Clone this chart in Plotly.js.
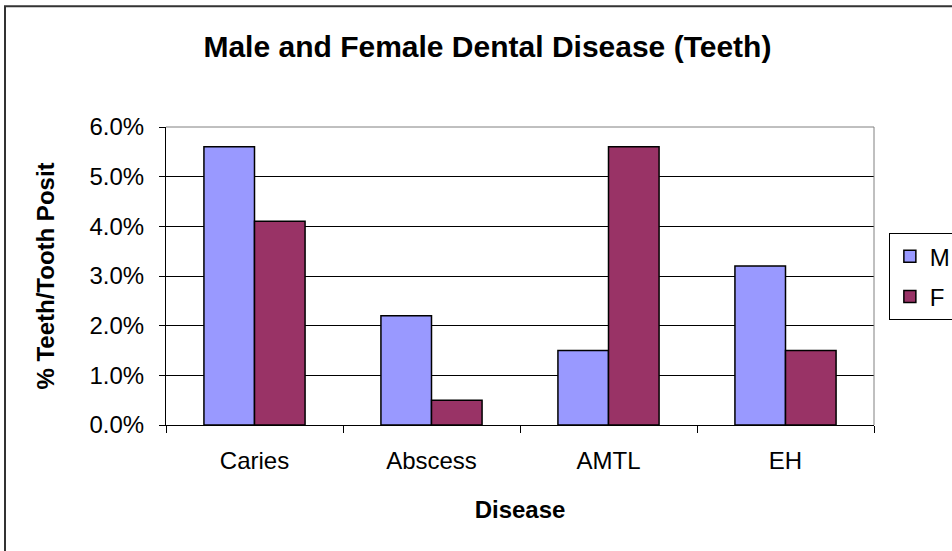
<!DOCTYPE html>
<html>
<head>
<meta charset="utf-8">
<script src="https://cdn.plot.ly/plotly-3.0.1.min.js"></script>
<style>html,body{margin:0;padding:0;background:#fff;}#chart{width:952px;height:551px;}</style>
</head>
<body>
<div id="chart"></div>
<script>
const categories = ["Caries", "Abscess", "AMTL", "EH"];
const maleValues = [0.056, 0.022, 0.015, 0.032];
const femaleValues = [0.041, 0.005, 0.056, 0.015];
const seriesNames = ["M", "F"];
const yTickValues = [0, 0.01, 0.02, 0.03, 0.04, 0.05, 0.06];

const font = "Liberation Sans, Arial, sans-serif";

const traces = [
  {type: "bar", name: seriesNames[0], x: categories, y: maleValues, legendgroup: "m",
   marker: {color: "#9999FF", line: {color: "#000", width: 1.5}}, hoverinfo: "x+y"},
  {type: "bar", name: seriesNames[1], x: categories, y: femaleValues, legendgroup: "f",
   marker: {color: "#993366", line: {color: "#000", width: 1.5}}, hoverinfo: "x+y"}
];

const layout = {
  width: 952, height: 551,
  margin: {l: 166, r: 78, t: 127, b: 126, autoexpand: false},
  paper_bgcolor: "#fff", plot_bgcolor: "#fff",
  font: {family: font, color: "#000", size: 24},
  title: {text: "<b>Male and Female Dental Disease (Teeth)</b>", font: {family: font, size: 30, color: "#000"},
          x: 0.512, xanchor: "center", y: 0.915, yanchor: "middle"},
  barmode: "group", bargap: 0.4286, bargroupgap: 0,
  xaxis: {
    type: "category", showline: true, linecolor: "#000", linewidth: 1,
    ticks: "outside", ticklen: 7, tickcolor: "#000", tickwidth: 1, tickson: "boundaries",
    ticklabelstandoff: 14,
    showgrid: false, tickfont: {size: 24, family: font},
    title: {text: "<b>Disease</b>", font: {size: 24, family: font}, standoff: 28},
    mirror: false, fixedrange: true
  },
  yaxis: {
    range: [0, 0.06], tickvals: yTickValues, tickformat: ".1%",
    showline: true, linecolor: "#000", linewidth: 1,
    ticks: "outside", ticklen: 6, tickcolor: "#000",
    ticklabelstandoff: 10,
    showgrid: true, gridcolor: "#000", gridwidth: 1, zeroline: false,
    tickfont: {size: 24, family: font},
    title: {text: "<b>% Teeth/Tooth Posit</b>", font: {size: 24, family: font}, standoff: 28},
    fixedrange: true
  },
  showlegend: true,
  legend: {x: 1.021, xanchor: "left", y: 0.644, yanchor: "top",
           bordercolor: "#000", borderwidth: 1, bgcolor: "#fff",
           traceorder: "grouped", tracegroupgap: 6,
           font: {size: 24, family: font}, itemclick: false},
  shapes: [
    {type: "line", xref: "paper", yref: "paper", x0: 0, x1: 1, y0: 1, y1: 1, line: {color: "#808080", width: 1}},
    {type: "line", xref: "paper", yref: "paper", x0: 1, x1: 1, y0: 0, y1: 1, line: {color: "#808080", width: 1}},
    {type: "rect", xref: "paper", yref: "paper", x0: -0.2274, x1: 1.13, y0: -0.47, y1: 1.405,
     line: {color: "#333", width: 2}, fillcolor: "rgba(0,0,0,0)", layer: "below"}
  ]
};

Plotly.newPlot("chart", traces, layout, {displayModeBar: false, staticPlot: true});
</script>
</body>
</html>
